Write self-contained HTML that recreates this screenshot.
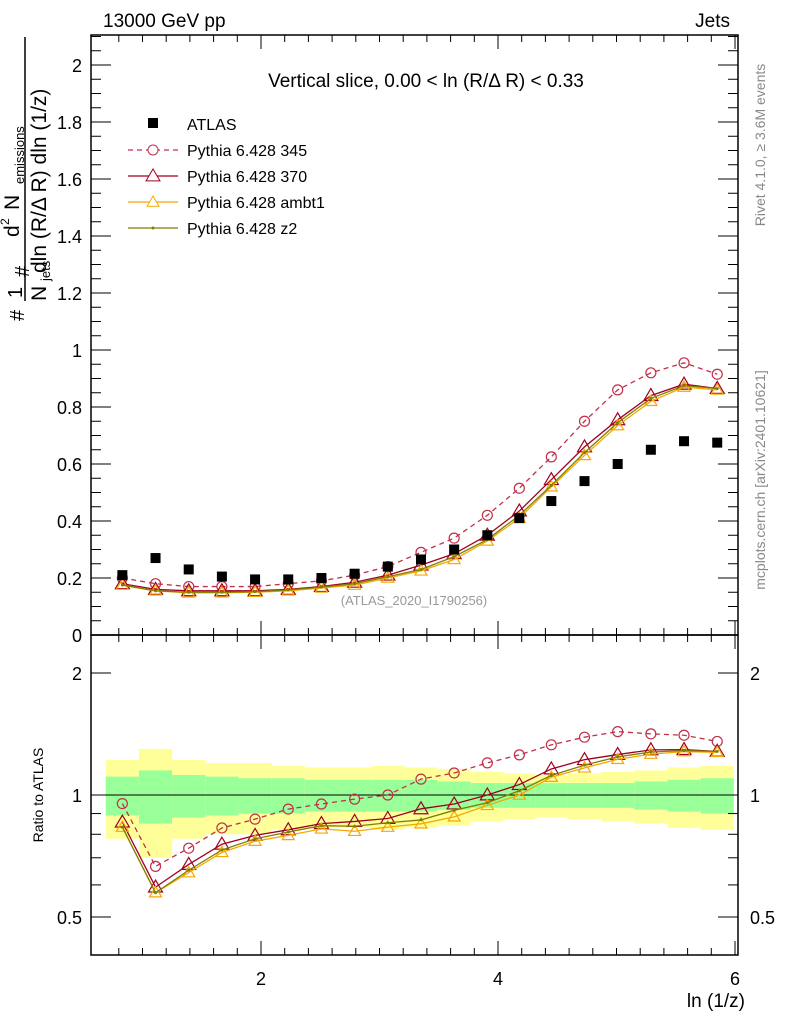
<!DOCTYPE html>
<html><head><meta charset="utf-8"><style>
body{margin:0;background:#fff;}
svg text{font-family:"Liberation Sans",sans-serif;}
</style></head><body>
<svg id="c" xmlns="http://www.w3.org/2000/svg" width="786" height="1024" viewBox="0 0 786 1024"></svg>
<script>
const xVals=[0.83,1.11,1.39,1.67,1.95,2.23,2.51,2.79,3.07,3.35,3.63,3.91,4.18,4.45,4.73,5.01,5.29,5.57,5.85];
const atlas=[0.21,0.27,0.23,0.205,0.195,0.195,0.20,0.215,0.24,0.265,0.30,0.35,0.41,0.47,0.54,0.60,0.65,0.68,0.675];
const py345=[0.20,0.18,0.17,0.17,0.17,0.18,0.19,0.21,0.24,0.29,0.34,0.42,0.515,0.625,0.75,0.86,0.92,0.955,0.915];
const py370=[0.18,0.16,0.155,0.155,0.155,0.16,0.17,0.185,0.21,0.245,0.285,0.35,0.435,0.545,0.66,0.755,0.84,0.88,0.865];
const pyAmbt1=[0.175,0.155,0.148,0.148,0.15,0.155,0.165,0.175,0.2,0.225,0.265,0.33,0.41,0.52,0.63,0.735,0.82,0.87,0.86];
const pyZ2=[0.175,0.155,0.15,0.15,0.152,0.158,0.168,0.18,0.205,0.23,0.275,0.335,0.42,0.525,0.64,0.745,0.83,0.875,0.865];
const yellowErr=[0.22,0.30,0.22,0.20,0.20,0.18,0.17,0.17,0.18,0.17,0.16,0.14,0.13,0.12,0.13,0.14,0.15,0.17,0.18];
const greenErr=[0.11,0.15,0.12,0.11,0.10,0.10,0.09,0.09,0.09,0.09,0.08,0.07,0.07,0.07,0.07,0.07,0.08,0.09,0.10];
const xTicks=[2,4,6];
const yTicks=[0,0.2,0.4,0.6,0.8,1,1.2,1.4,1.6,1.8,2];
const rTicks=[0.5,1,2];

const NS="http://www.w3.org/2000/svg";
const svg=document.getElementById('c');
const L=91,R=738,T=35,M=635,B=955;
const X=v=>24+118.5*v;
const Y=v=>635-285*v;
const RY=r=>795-405.3*Math.log10(r);
function el(tag,attrs,parent){const e=document.createElementNS(NS,tag);for(const k in attrs)e.setAttribute(k,attrs[k]);(parent||svg).appendChild(e);return e;}
function txt(s,x,y,size,anchor,fill,parent){const t=el('text',{x:x,y:y,'font-size':size,'text-anchor':anchor||'start',fill:fill||'#000'},parent);t.textContent=s;return t;}

// bands
const edges=xVals.map((v,i)=>i==0?v-0.14:(v+xVals[i-1])/2);edges.push(xVals[xVals.length-1]+0.14);
xVals.forEach((v,i)=>{
 const y=el('rect',{x:X(edges[i]),y:RY(1+yellowErr[i]),width:X(edges[i+1])-X(edges[i]),height:RY(1-yellowErr[i])-RY(1+yellowErr[i]),fill:'#ffff99'});
 
 
 const g=el('rect',{x:X(edges[i]),y:RY(1+greenErr[i]),width:X(edges[i+1])-X(edges[i]),height:RY(1-greenErr[i])-RY(1+greenErr[i]),fill:'#99ff99'});
 
 
});
el('line',{x1:L,x2:R,y1:RY(1),y2:RY(1),stroke:'#000'});

// frames
el('rect',{x:L,y:T,width:R-L,height:M-T,fill:'none',stroke:'#000','stroke-width':1.5});
el('rect',{x:L,y:M,width:R-L,height:B-M,fill:'none',stroke:'#000','stroke-width':1.5});

// x ticks
for(let v=0.8;v<=6.01;v+=0.2){const maj=Math.abs(v-Math.round(v/2)*2)<1e-6;const len=maj?14:7;
 [[T,1],[M,-1],[M,1],[B,-1]].forEach(([yy,d])=>el('line',{x1:X(v),x2:X(v),y1:yy,y2:yy+d*len,stroke:'#000'}));}
xTicks.forEach(v=>{const t=txt(String(v),X(v),985,18,'middle');});
// y ticks main
for(let v=0;v<=2.101;v+=0.05){const maj=Math.abs(v*5-Math.round(v*5))<1e-6;const len=maj?20:10;
 el('line',{x1:L,x2:L+len,y1:Y(v),y2:Y(v),stroke:'#000'});el('line',{x1:R,x2:R-len,y1:Y(v),y2:Y(v),stroke:'#000'});}
yTicks.forEach(v=>{const t=txt(String(v),82,Y(v)+7,18,'end');});
// ratio ticks
[0.4,0.5,0.6,0.7,0.8,0.9,1,2].forEach(v=>{const maj=(v==0.5||v==1||v==2);const len=maj?20:10;const yy=RY(v);if(yy<M||yy>B)return;
 el('line',{x1:L,x2:L+len,y1:yy,y2:yy,stroke:'#000'});el('line',{x1:R,x2:R-len,y1:yy,y2:yy,stroke:'#000'});});
rTicks.forEach(v=>{const s=String(v);const a=txt(s,82,RY(v)+7,18,'end');
 const b=txt(s,750,RY(v)+7,18,'start');});

// series
const series=[
 {name:'py345',d:py345,c:'#c0304a',dash:'5,4',m:'circle',lab:'Pythia 6.428 345'},
 {name:'py370',d:py370,c:'#a00020',dash:'',m:'tri',lab:'Pythia 6.428 370'},
 {name:'ambt1',d:pyAmbt1,c:'#f5a800',dash:'',m:'tri',lab:'Pythia 6.428 ambt1'},
 {name:'z2',d:pyZ2,c:'#808000',dash:'',m:'dot',lab:'Pythia 6.428 z2'}];
function marker(m,x,y,c,name,big){
 let e;
 if(m=='circle')e=el('circle',{cx:x,cy:y,r:5,fill:'none',stroke:c,'stroke-width':1.2});
 else if(m=='tri'){const s=big?7:6;e=el('polygon',{points:`${x},${y-s} ${x-s},${y+s*0.7} ${x+s},${y+s*0.7}`,fill:'none',stroke:c,'stroke-width':1.2});}
 else e=el('circle',{cx:x,cy:y,r:1.5,fill:c});
 
 
}
series.forEach(s=>{
 const p=el('polyline',{points:s.d.map((v,i)=>X(xVals[i])+','+Y(v)).join(' '),fill:'none',stroke:s.c,'stroke-width':1.3,'stroke-dasharray':s.dash});
 
 
 const q=el('polyline',{points:s.d.map((v,i)=>X(xVals[i])+','+RY(v/atlas[i])).join(' '),fill:'none',stroke:s.c,'stroke-width':1.3,'stroke-dasharray':s.dash});
 
 
 s.d.forEach((v,i)=>{marker(s.m,X(xVals[i]),Y(v),s.c,s.name+'-point',s.name=='py370');marker(s.m,X(xVals[i]),RY(v/atlas[i]),s.c,s.name+'-ratio-point',s.name=='py370');});
});
atlas.forEach((v,i)=>{const r=el('rect',{x:X(xVals[i])-5,y:Y(v)-5,width:10,height:10,fill:'#000'});
 
 });

// legend
const lg=el('g',{});
el('rect',{x:148,y:118,width:10,height:10,fill:'#000'},lg);txt('ATLAS',187,130,16,'start','#000',lg);
series.forEach((s,i)=>{const y=150+i*26;
 el('line',{x1:128,x2:178,y1:y,y2:y,stroke:s.c,'stroke-width':1.3,'stroke-dasharray':s.dash},lg);
 if(s.m=='circle')el('circle',{cx:153,cy:y,r:5,fill:'#fff',stroke:s.c},lg);
 else if(s.m=='tri'){const k=s.name=='py370'?7:6;el('polygon',{points:`153,${y-k} ${153-k},${y+k*0.7} ${153+k},${y+k*0.7}`,fill:'#fff',stroke:s.c},lg);}
 else el('circle',{cx:153,cy:y,r:1.5,fill:s.c},lg);
 txt(s.lab,187,y+6,16,'start','#000',lg);});

// texts
let t;
t=txt('13000 GeV pp',103,27,19);
t=txt('Jets',730,27,19,'end');
t=txt('Vertical slice, 0.00 < ln (R/Δ R) < 0.33',426,87,19,'middle');
t=txt('(ATLAS_2020_I1790256)',414,605,13,'middle','#999');
t=txt('ln (1/z)',745,1007,19,'end');
t=txt('Ratio to ATLAS',0,0,14,'middle');t.setAttribute('transform','translate(43,795) rotate(-90)');
t=txt('Rivet 4.1.0, ≥ 3.6M events',0,0,14,'middle','#888');t.setAttribute('transform','translate(765,145) rotate(-90)');
t=txt('mcplots.cern.ch [arXiv:2401.10621]',0,0,14,'middle','#888');t.setAttribute('transform','translate(765,480) rotate(-90)');
// y-axis title (rotated: x' = -screenY, y' = screenX)
const yt=el('g',{transform:'rotate(-90)'});
txt('#',-321,24,20,'start','#000',yt);
txt('1',-298,22,20,'start','#000',yt);
el('line',{x1:-301,x2:-273,y1:25,y2:25,stroke:'#000','stroke-width':1.5},yt);
txt('N',-301,46,21,'start','#000',yt);txt('jets',-281,50,13,'start','#000',yt);
txt('#',-277,29,20,'start','#000',yt);
el('line',{x1:-275,x2:-37,y1:25,y2:25,stroke:'#000','stroke-width':1.5},yt);
txt('d',-237,19,21,'start','#000',yt);txt('2',-225,9,12,'start','#000',yt);
txt('N',-210,19,21,'start','#000',yt);txt('emissions',-184,24,13,'start','#000',yt);
txt('dln (R/Δ R) dln (1/z)',-273,46,21,'start','#000',yt);
</script>
</body></html>
